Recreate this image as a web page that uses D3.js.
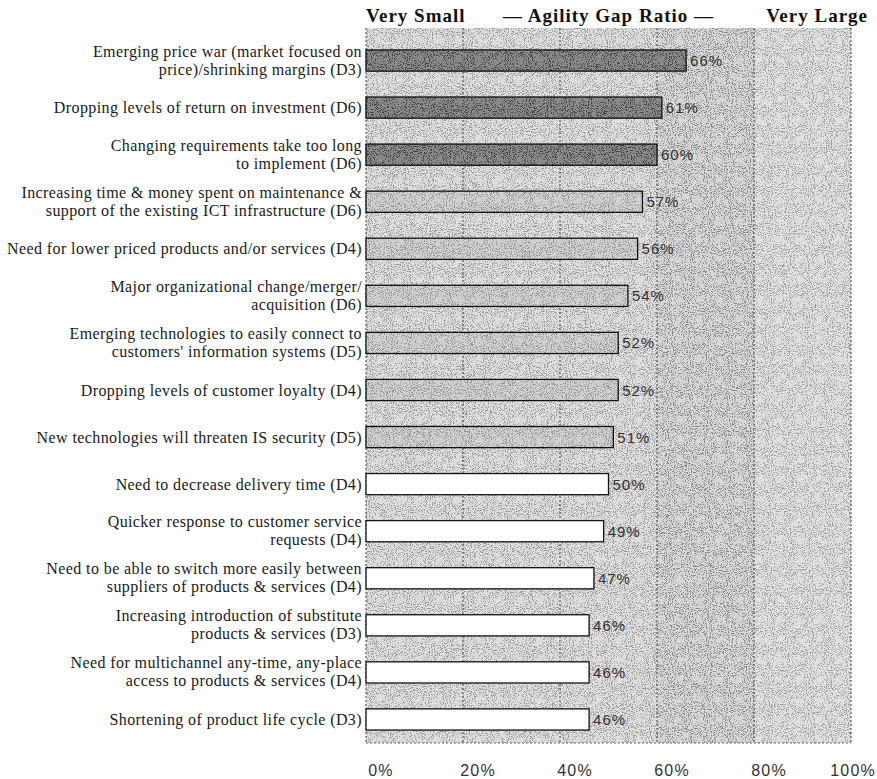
<!DOCTYPE html>
<html>
<head>
<meta charset="utf-8">
<script src="https://cdn.jsdelivr.net/npm/d3@7"></script>
<style>
  html, body { margin: 0; padding: 0; background: #fff; }
  svg { display: block; }
</style>
</head>
<body>
<svg id="chart" width="877" height="779"></svg>
<script>
// ---- data ----
const categories = [
  ["Emerging price war (market focused on", "price)/shrinking margins (D3)"],
  ["Dropping levels of return on investment (D6)"],
  ["Changing requirements take too long", "to implement (D6)"],
  ["Increasing time & money spent on maintenance &", "support of the existing ICT infrastructure (D6)"],
  ["Need for lower priced products and/or services (D4)"],
  ["Major organizational change/merger/", "acquisition (D6)"],
  ["Emerging technologies to easily connect to", "customers' information systems (D5)"],
  ["Dropping levels of customer loyalty (D4)"],
  ["New technologies will threaten IS security (D5)"],
  ["Need to decrease delivery time (D4)"],
  ["Quicker response to customer service", "requests (D4)"],
  ["Need to be able to switch more easily between", "suppliers of products & services (D4)"],
  ["Increasing introduction of substitute", "products & services (D3)"],
  ["Need for multichannel any-time, any-place", "access to products & services (D4)"],
  ["Shortening of product life cycle (D3)"]
];
const values = [66, 61, 60, 57, 56, 54, 52, 52, 51, 50, 49, 47, 46, 46, 46];
const tiers = ["high","high","high","mid","mid","mid","mid","mid","mid","low","low","low","low","low","low"];
const xTicks = [0, 20, 40, 60, 80, 100];
const bands = [ {from: 0, to: 60, shade: "a"}, {from: 60, to: 80, shade: "b"}, {from: 80, to: 100, shade: "c"} ];
const titleParts = ["Very Small", "— Agility Gap Ratio —", "Very Large"];

// ---- styles ----
const tierFill = { high: "#8c8c8c", mid: "#d2d2d2", low: "#ffffff" };
const tierGrain = { high: 0.55, mid: 0.3, low: 0 };
const bandFill = { a: "#e0e0e0", b: "#d9d9d9", c: "#e2e2e2" };
const bandGrain = { a: 0.32, b: 0.38, c: 0.3 };

const svg = d3.select("#chart");
const defs = svg.append("defs");
const f = defs.append("filter").attr("id", "grain")
  .attr("x", 0).attr("y", 0).attr("width", 1).attr("height", 1);
f.append("feTurbulence").attr("type", "fractalNoise").attr("baseFrequency", 0.95)
  .attr("numOctaves", 2).attr("seed", 11).attr("result", "n");
f.append("feColorMatrix").attr("in", "n").attr("type", "matrix")
  .attr("values", "0 0 0 0 0  0 0 0 0 0  0 0 0 0 0  7 0 0 0 -3.6").attr("result", "dots");
f.append("feComposite").attr("in", "dots").attr("in2", "SourceGraphic").attr("operator", "in");

const x = d3.scaleLinear().domain([0, 100]).range([366, 851]);
const y = d3.scaleBand().domain(d3.range(categories.length)).range([37, 743]).paddingInner(0.55).paddingOuter(0.275);

// background bands
const bg = svg.append("g");
bg.selectAll("rect.base").data(bands).join("rect").attr("class", "base")
  .attr("x", d => x(d.from)).attr("width", d => x(d.to) - x(d.from))
  .attr("y", 28).attr("height", 743 - 28)
  .attr("fill", d => bandFill[d.shade]);
bg.selectAll("rect.grain").data(bands).join("rect").attr("class", "grain")
  .attr("x", d => x(d.from)).attr("width", d => x(d.to) - x(d.from))
  .attr("y", 28).attr("height", 743 - 28)
  .attr("fill", "#000").attr("opacity", d => bandGrain[d.shade])
  .attr("filter", "url(#grain)");

// gridlines
svg.append("g").selectAll("line").data(xTicks).join("line")
  .attr("x1", d => x(d)).attr("x2", d => x(d))
  .attr("y1", 28).attr("y2", 743)
  .attr("stroke", "#444").attr("stroke-width", 1)
  .attr("stroke-dasharray", "2,2");
svg.append("line").attr("x1", x(0)).attr("x2", x(100)).attr("y1", 743).attr("y2", 743)
  .attr("stroke", "#666").attr("stroke-dasharray", "2,2");

// bars
const barG = svg.append("g");
barG.selectAll("rect.bar").data(values).join("rect").attr("class", "bar")
  .attr("x", x(0)).attr("y", (d, i) => y(i))
  .attr("width", d => x(d) - x(0)).attr("height", y.bandwidth())
  .attr("fill", (d, i) => tierFill[tiers[i]]);
barG.selectAll("rect.bgrain").data(values).join("rect").attr("class", "bgrain")
  .attr("x", x(0)).attr("y", (d, i) => y(i))
  .attr("width", d => x(d) - x(0)).attr("height", y.bandwidth())
  .attr("fill", "#000").attr("opacity", (d, i) => tierGrain[tiers[i]])
  .attr("filter", "url(#grain)");
barG.selectAll("rect.outline").data(values).join("rect").attr("class", "outline")
  .attr("x", x(0)).attr("y", (d, i) => y(i))
  .attr("width", d => x(d) - x(0)).attr("height", y.bandwidth())
  .attr("fill", "none")
  .attr("stroke", "#111").attr("stroke-width", 1.3);

// value labels
svg.append("g").selectAll("text").data(values).join("text")
  .attr("x", d => x(d) + 4).attr("y", (d, i) => y(i) + y.bandwidth() / 2)
  .attr("dominant-baseline", "central")
  .attr("font-family", "Liberation Sans, Arial, sans-serif")
  .attr("font-size", 15).attr("letter-spacing", 1)
  .attr("fill", "#333")
  .text(d => d + "%");

// category labels
const catG = svg.append("g");
categories.forEach((lines, i) => {
  const cy = y(i) + y.bandwidth() / 2;
  const t = catG.append("text")
    .attr("text-anchor", "end")
    .attr("font-family", "'Liberation Serif', 'Times New Roman', serif")
    .attr("font-size", 16).attr("letter-spacing", 0.4)
    .attr("fill", "#1a1a1a");
  lines.forEach((ln, j) => {
    const off = lines.length === 1 ? 0 : (j === 0 ? -9.5 : 8.5);
    t.append("tspan").attr("x", 362).attr("y", cy + off)
      .attr("dominant-baseline", "central").text(ln);
  });
});

// x axis labels
svg.append("g").selectAll("text").data(xTicks).join("text")
  .attr("x", d => d === 100 ? 876 : x(d) + 15)
  .attr("y", 770)
  .attr("text-anchor", d => d === 100 ? "end" : "middle")
  .attr("dominant-baseline", "central")
  .attr("font-family", "Liberation Sans, Arial, sans-serif")
  .attr("font-size", 16).attr("letter-spacing", 1.2)
  .attr("fill", "#333")
  .text(d => d + "%");

// title
const titleX = [366, 503, 868];
const titleAnchor = ["start", "start", "end"];
svg.append("g").selectAll("text").data(titleParts).join("text")
  .attr("x", (d, i) => titleX[i]).attr("y", 15)
  .attr("text-anchor", (d, i) => titleAnchor[i])
  .attr("dominant-baseline", "central")
  .attr("font-family", "'Liberation Serif', 'Times New Roman', serif")
  .attr("font-weight", "bold").attr("font-size", 19).attr("letter-spacing", 1)
  .attr("fill", "#111")
  .text(d => d);
</script>
</body>
</html>
